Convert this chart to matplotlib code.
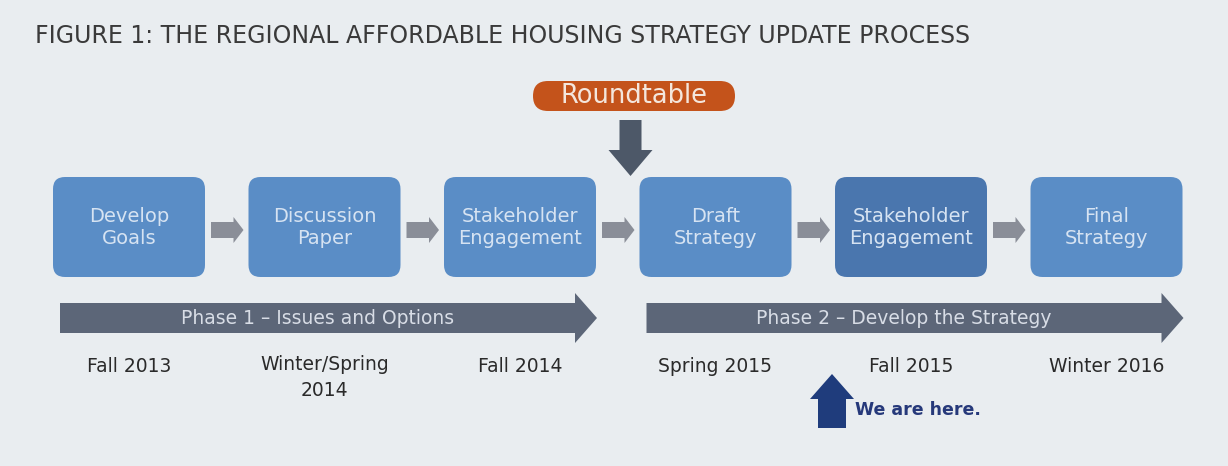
import matplotlib
matplotlib.use('Agg')
import matplotlib.pyplot as plt
from matplotlib.patches import FancyBboxPatch, Polygon

plt.rcParams['font.family'] = ['DejaVu Sans']

# process data
title = 'FIGURE 1: THE REGIONAL AFFORDABLE HOUSING STRATEGY UPDATE PROCESS'
steps = ['Develop\nGoals', 'Discussion\nPaper', 'Stakeholder\nEngagement',
         'Draft\nStrategy', 'Stakeholder\nEngagement', 'Final\nStrategy']
dates = ['Fall 2013', 'Winter/Spring\n2014', 'Fall 2014',
         'Spring 2015', 'Fall 2015', 'Winter 2016']
phases = ['Phase 1 – Issues and Options', 'Phase 2 – Develop the Strategy']
phase_steps = [(0, 2), (3, 5)]
current = 4  # the step we are at
roundtable_before = 3

fig = plt.figure(figsize=(12.28, 4.66), dpi=100)
ax = fig.add_axes([0, 0, 1, 1])
ax.set_xlim(0, 1228)
ax.set_ylim(466, 0)
ax.axis('off')
fig.patch.set_facecolor('#e9edf0')

ax.text(35, 36, title, fontsize=17, color='#3a3a3a', va='center', ha='left')

box_w, box_h, box_top, step = 152, 100, 177, 195.5
x0 = 53
centers = []
for i, s in enumerate(steps):
    left = x0 + i * step
    col = '#4a76ae' if i == current else '#5a8dc6'
    ax.add_patch(FancyBboxPatch((left + 12, box_top + 12), box_w - 24, box_h - 24,
                                boxstyle='round,pad=12', fc=col, ec='none'))
    cx = left + box_w / 2
    centers.append(cx)
    ax.text(cx, box_top + box_h / 2 + 1, s, ha='center', va='center',
            fontsize=14, color='#d6e3f2', linespacing=1.2)
    # small connecting arrow
    if i < len(steps) - 1:
        ax_l = left + box_w + 6
        ax_r = x0 + (i + 1) * step - 5
        yc = box_top + box_h / 2 + 3
        ax.add_patch(Polygon([(ax_l, yc - 8), (ax_r - 10, yc - 8), (ax_r - 10, yc - 13),
                              (ax_r, yc), (ax_r - 10, yc + 13), (ax_r - 10, yc + 8),
                              (ax_l, yc + 8)], closed=True, fc='#8a8e98', ec='none'))

# roundtable pill + arrow
rx = x0 + roundtable_before * step - 9
ax.add_patch(FancyBboxPatch((533, 81), 202, 30, boxstyle='round,pad=0,rounding_size=15',
                            fc='#c4531b', ec='none'))
ax.text(634, 96, 'Roundtable', ha='center', va='center', fontsize=18.5, color='#f4e6dc')
ax.add_patch(Polygon([(rx - 11, 120), (rx + 11, 120), (rx + 11, 150), (rx + 22, 150),
                      (rx, 176), (rx - 22, 150), (rx - 11, 150)],
                     closed=True, fc='#4d5868', ec='none'))

# phase arrows
for label, (a, b) in zip(phases, phase_steps):
    left = x0 + a * step + 7
    right = x0 + b * step + box_w + 1
    yc = 318
    ax.add_patch(Polygon([(left, yc - 15), (right - 22, yc - 15), (right - 22, yc - 25),
                          (right, yc), (right - 22, yc + 25), (right - 22, yc + 15),
                          (left, yc + 15)], closed=True, fc='#5c6678', ec='none'))
    ax.text((left + right - 22) / 2, yc, label, ha='center', va='center',
            fontsize=13.5, color='#d8dde6')

# dates
for cx, d in zip(centers, dates):
    if '\n' in d:
        ax.text(cx, 355, d, ha='center', va='top', fontsize=13.5,
                color='#2a2a2a', linespacing=1.45)
    else:
        ax.text(cx, 367, d, ha='center', va='center', fontsize=13.5, color='#2a2a2a')

# we are here
hx = 832
ax.add_patch(Polygon([(hx - 14, 428), (hx - 14, 399), (hx - 22, 399), (hx, 374),
                      (hx + 22, 399), (hx + 14, 399), (hx + 14, 428)],
                     closed=True, fc='#1f3c7c', ec='none'))
ax.text(855, 410, 'We are here.', ha='left', va='center', fontsize=12.5,
        fontweight='bold', color='#26397a')

fig.savefig('out.png', dpi=100, facecolor=fig.get_facecolor())
